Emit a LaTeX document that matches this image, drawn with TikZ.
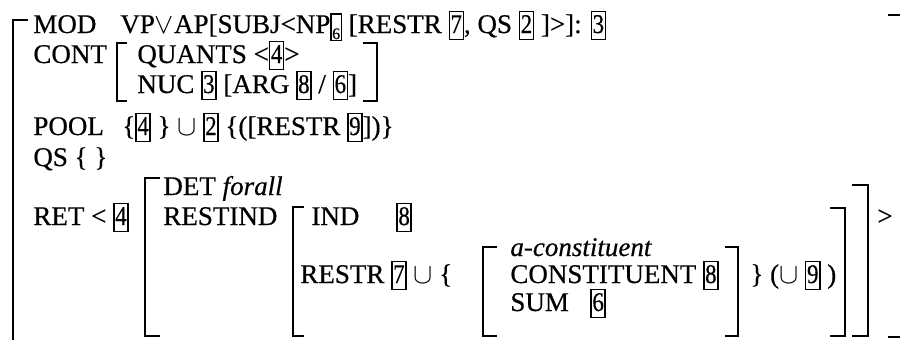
\documentclass[tikz,border=0pt]{standalone}
\usepackage{fontspec}
\usepackage{graphicx}
\setmainfont{Liberation Serif}[FakeBold=0.5]
\usetikzlibrary{positioning}
% boxed tags
\newcommand{\tg}[1]{{\setlength{\fboxsep}{0.3pt}\setlength{\fboxrule}{0.7pt}\fbox{\rule[-2.5pt]{0pt}{12.5pt}\scalebox{0.85}[1]{#1}}}}
\newcommand{\stg}[1]{{\setlength{\fboxsep}{0.2pt}\setlength{\fboxrule}{0.7pt}\raisebox{-3pt}{\fbox{\rule{0pt}{12pt}\footnotesize #1}}}}

\begin{document}
\begin{tikzpicture}[x=0.5pt, y=-0.5pt, every node/.style={anchor=base west, inner sep=0pt, font=\fontsize{13.5}{15}\selectfont}, brk/.style={line width=1pt}]
\useasboundingbox (0,0) rectangle (900,339);
% outer matrix
\node (mod) at (33,33) {MOD};
\node (modval) at (120,33) {VP$\vee$AP[SUBJ<NP\stg{6} [RESTR \tg{7}, QS \tg{2} ]>]: \tg{3}};
\node (cont) at (33,63) {CONT};
\node (quants) at (137,63) {QUANTS <\tg{4}>};
\node (nuc) at (137,93) {NUC \tg{3} [ARG \tg{8} / \tg{6}]};
\node (pool) at (33,135) {POOL};
\node (poolval) at (122,135) {\{\tg{4} \} $\cup$ \tg{2} \{([RESTR \tg{9}])\}};
\node (qs) at (33,166) {QS \{ \}};
\node (ret) at (33,225) {RET < \tg{4}};
% retrieved quantifier
\node (det) at (163,195) {DET \textit{forall}};
\node (restind) at (163,225) {RESTIND};
\node (ind) at (311,225) {IND};
\node (indval) at (396,225) {\tg{8}};
\node (restr) at (300,283) {RESTR \tg{7} $\cup$ \{};
\node (acon) at (510,256) {\textit{a-constituent}};
\node (constit) at (510,283) {CONSTITUENT \tg{8}};
\node (sum) at (510,311) {SUM};
\node (sumval) at (590,311) {\tg{6}};
\node (union) at (750,283) {\} ($\cup$ \tg{9} )};
\node (close) at (877,225) {>};
% brackets
\draw[brk] (28,20) -- (13,20) -- (13,345);
\draw[brk] (888,15) -- (900,15);
\draw[brk] (888,337) -- (900,337);
\draw[brk] (127,43) -- (117,43) -- (117,101) -- (127,101);
\draw[brk] (363,43) -- (377,43) -- (377,101) -- (363,101);
\draw[brk] (160,178) -- (145,178) -- (145,336) -- (160,336);
\draw[brk] (852,185) -- (868,185) -- (868,336) -- (852,336);
\draw[brk] (304,207) -- (293,207) -- (293,336) -- (304,336);
\draw[brk] (830,208) -- (845,208) -- (845,336) -- (830,336);
\draw[brk] (497,247) -- (483,247) -- (483,336) -- (497,336);
\draw[brk] (725,247) -- (738,247) -- (738,336) -- (725,336);
\end{tikzpicture}
\end{document}
